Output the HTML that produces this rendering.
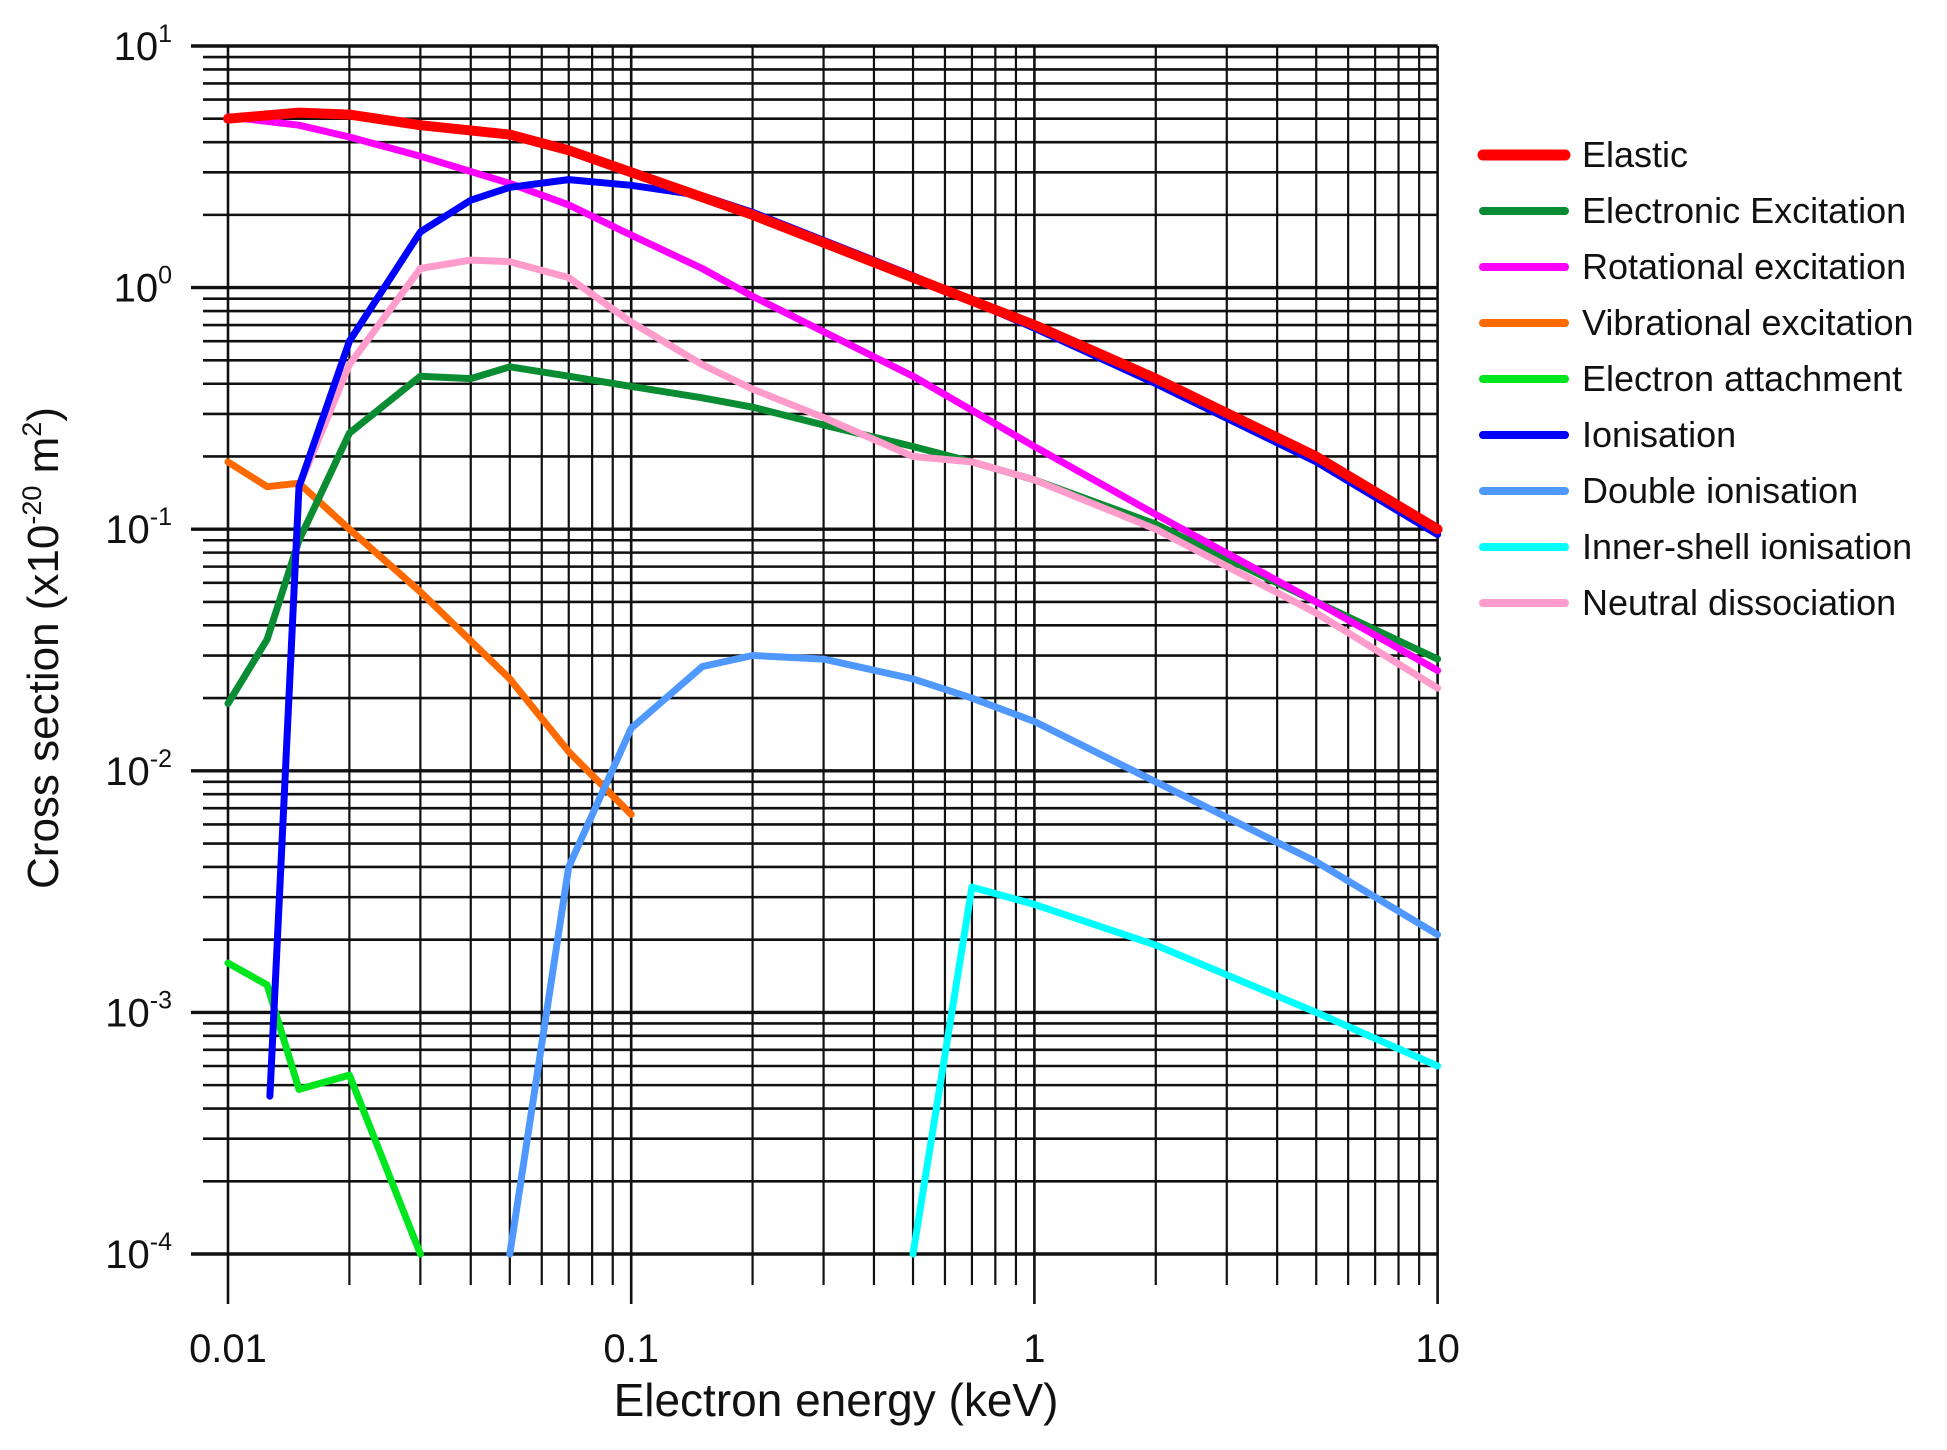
<!DOCTYPE html>
<html><head><meta charset="utf-8"><style>
body{margin:0;background:#fff}
svg{display:block;font-family:"Liberation Sans",Arial,sans-serif}
</style></head><body>
<svg id="chart" width="1947" height="1450" viewBox="0 0 1947 1450">
<g id="grid"></g>
<g id="series"></g>
<g id="axes"></g>
<g id="legend"></g>
<text x="58" y="648" transform="rotate(-90 58 648)" text-anchor="middle" font-size="44" fill="#111">Cross section (x10<tspan dy="-17" font-size="27">-20</tspan><tspan dy="17"> m</tspan><tspan dy="-17" font-size="27">2</tspan><tspan dy="17">)</tspan></text>
<text x="836" y="1416" text-anchor="middle" font-size="46" fill="#111">Electron energy (keV)</text>
</svg>
<script>
const seriesNames=["Elastic","Electronic Excitation","Rotational excitation","Vibrational excitation","Electron attachment","Ionisation","Double ionisation","Inner-shell ionisation","Neutral dissociation"];
const seriesColors=["#ff0000","#0a8c32","#ff00ff","#ff6a00","#00e61e","#0000ff","#4f98ff","#00ffff","#ff9ccc"];
const elasticX=[0.01,0.015,0.02,0.03,0.05,0.07,0.1,0.2,0.5,1,2,5,10];
const elasticY=[5.0,5.3,5.2,4.7,4.3,3.7,3.0,2.0,1.1,0.7,0.42,0.2,0.1];
const electronicX=[0.01,0.0125,0.015,0.02,0.03,0.04,0.05,0.07,0.1,0.15,0.2,0.3,0.5,0.7,1,2,5,10];
const electronicY=[0.019,0.035,0.09,0.25,0.43,0.42,0.47,0.43,0.39,0.35,0.32,0.27,0.22,0.19,0.16,0.105,0.05,0.029];
const rotationalX=[0.01,0.015,0.02,0.03,0.05,0.07,0.1,0.15,0.2,0.5,1,2,5,10];
const rotationalY=[5.1,4.7,4.2,3.5,2.7,2.2,1.65,1.2,0.92,0.43,0.22,0.115,0.05,0.026];
const vibrationalX=[0.01,0.0125,0.015,0.02,0.03,0.05,0.07,0.1];
const vibrationalY=[0.19,0.15,0.155,0.1,0.055,0.024,0.012,0.0066];
const attachmentX=[0.01,0.0125,0.015,0.02,0.03];
const attachmentY=[0.0016,0.0013,0.00048,0.00055,0.0001];
const ionisationX=[0.0127,0.015,0.02,0.03,0.04,0.05,0.07,0.1,0.15,0.2,0.5,1,2,5,10];
const ionisationY=[0.00045,0.15,0.6,1.7,2.3,2.6,2.8,2.65,2.4,2.05,1.12,0.68,0.4,0.19,0.095];
const doubleX=[0.05,0.07,0.1,0.15,0.2,0.3,0.5,0.7,1,2,5,10];
const doubleY=[0.0001,0.004,0.015,0.027,0.03,0.029,0.024,0.02,0.016,0.009,0.0042,0.0021];
const innerX=[0.5,0.7,1,2,5,10];
const innerY=[0.0001,0.0033,0.0028,0.0019,0.001,0.0006];
const neutralX=[0.015,0.02,0.03,0.04,0.05,0.07,0.1,0.15,0.2,0.3,0.5,0.7,1,2,5,10];
const neutralY=[0.15,0.48,1.2,1.3,1.28,1.1,0.72,0.48,0.38,0.29,0.2,0.19,0.16,0.1,0.045,0.022];
const xTickLabels=["0.01","0.1","1","10"];
const yTickExps=[1,0,-1,-2,-3,-4];

const X0=228,XD=403.2,Y0=46,YD=241.6;
function sx(v){return X0+(Math.log10(v)+2)*XD;}
function sy(v){return Y0+(1-Math.log10(v))*YD;}
const NS="http://www.w3.org/2000/svg";
function mk(tag,attrs,parent){const e=document.createElementNS(NS,tag);for(const k in attrs)e.setAttribute(k,attrs[k]);parent.appendChild(e);return e;}
const grid=document.getElementById('grid'),axes=document.getElementById('axes'),ser=document.getElementById('series'),leg=document.getElementById('legend');
const xR=sx(10),yB=sy(1e-4),yT=sy(10);
for(let e=-4;e<=1;e++){
  for(let m=1;m<=9;m++){
    if(e===1&&m>1)break;
    const v=m*Math.pow(10,e);const y=sy(v);
    const l=mk('line',{x1:m===1?191:203,x2:xR,y1:y,y2:y,stroke:'#111','stroke-width':m===1?3.4:2.6},grid);
    
    
  }
}
for(let e=-2;e<=1;e++){
  for(let m=1;m<=9;m++){
    if(e===1&&m>1)break;
    const v=m*Math.pow(10,e);const x=sx(v);
    const l=mk('line',{x1:x,x2:x,y1:yT,y2:m===1?1304:1285,stroke:'#111','stroke-width':m===1?2.6:2.2},grid);
    
    
  }
}
xTickLabels.forEach((t,i)=>{
  const tx=mk('text',{x:sx(Math.pow(10,i-2)),y:1362,'text-anchor':'middle','font-size':40,fill:'#111'},axes);
  tx.textContent=t;
  
  
});
yTickExps.forEach(e=>{
  const tx=mk('text',{x:172,y:sy(Math.pow(10,e))+14,'text-anchor':'end','font-size':40,fill:'#111'},axes);
  tx.textContent='10';
  const sp=mk('tspan',{dy:-18,'font-size':25},tx);sp.textContent=String(e);
  
  
});
const allX=[elasticX,electronicX,rotationalX,vibrationalX,attachmentX,ionisationX,doubleX,innerX,neutralX];
const allY=[elasticY,electronicY,rotationalY,vibrationalY,attachmentY,ionisationY,doubleY,innerY,neutralY];
const widths=[10,7,7,7,7,7,7,7,7];
const order=[4,3,6,7,1,8,2,5,0];
order.forEach(i=>{
  const pts=allX[i].map((x,j)=>sx(x).toFixed(1)+','+sy(allY[i][j]).toFixed(1)).join(' ');
  const p=mk('polyline',{points:pts,fill:'none',stroke:seriesColors[i],'stroke-width':widths[i],'stroke-linejoin':'round','stroke-linecap':'round'},ser);
  
  
});
seriesNames.forEach((n,i)=>{
  const y=155+i*56;
  const g=mk('g',{},leg);
  
  
  mk('line',{x1:1483,x2:1565,y1:y,y2:y,stroke:seriesColors[i],'stroke-width':i===0?11:8,'stroke-linecap':'round'},g);
  const t=mk('text',{x:1582,y:y+12,'font-size':36,fill:'#111'},g);t.textContent=n;
});
</script>
</body></html>
